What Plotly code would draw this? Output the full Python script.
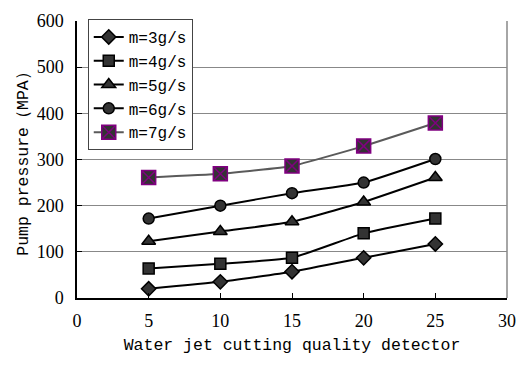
import plotly.graph_objects as go

x_vals = [5, 10, 15, 20, 25]
m3 = [20, 35, 57, 87, 117]
m4 = [64, 74, 87, 140, 172]
m5 = [123, 144, 165, 208, 261]
m6 = [172, 200, 227, 250, 301]
m7 = [261, 269, 286, 329, 379]
names = ["m=3g/s", "m=4g/s", "m=5g/s", "m=6g/s", "m=7g/s"]
x_ticks = [0, 5, 10, 15, 20, 25, 30]
y_ticks = [0, 100, 200, 300, 400, 500, 600]

series = [m3, m4, m5, m6, m7]
symbols = ["diamond", "square", "triangle-up", "circle", "square-x"]
sizes = [11, 11, 12, 11, 14]
line_colors = ["black", "black", "black", "black", "#5a5a5a"]
mline_colors = ["black", "black", "black", "black", "#800080"]

SERIF = "Liberation Serif"

fig = go.Figure()
for i, (ys, nm) in enumerate(zip(series, names)):
    fig.add_trace(go.Scatter(
        x=x_vals, y=ys, name=nm, mode="lines+markers",
        legendgroup=nm,
        line=dict(color=line_colors[i], width=2, shape="spline", smoothing=0.4),
        marker=dict(symbol=symbols[i], size=sizes[i], color="#333333",
                    line=dict(color=mline_colors[i], width=1.5)),
    ))

fig.update_layout(
    width=527, height=367,
    margin=dict(l=77, r=11, t=15, b=69),
    plot_bgcolor="white", paper_bgcolor="white",
    font=dict(family=SERIF, size=18, color="black"),
    showlegend=True,
    legend=dict(
        x=0.025, y=1.007, xanchor="left", yanchor="top",
        bgcolor="white", bordercolor="#444444", borderwidth=1,
        font=dict(family="Liberation Mono", size=16, color="black"),
        tracegroupgap=0,
    ),
    xaxis=dict(
        range=[0, 30], tickvals=x_ticks, ticks="inside", ticklen=5,
        tickcolor="black", showline=True, linecolor="black", linewidth=1.5,
        mirror=False, showgrid=False, zeroline=False, ticklabelstandoff=6,
        tickfont=dict(family=SERIF, size=18),
        title=dict(text="Water jet cutting quality detector",
                   font=dict(family="Liberation Mono", size=16.5), standoff=8),
    ),
    yaxis=dict(
        range=[0, 600], tickvals=y_ticks, ticks="inside", ticklen=5,
        tickcolor="black", showline=True, linecolor="black", linewidth=1.5,
        showgrid=True, gridcolor="#888888", gridwidth=1, zeroline=False,
        ticklabelstandoff=8,
        tickfont=dict(family=SERIF, size=18),
        title=dict(text="Pump pressure（MPA）",
                   font=dict(family="Liberation Mono", size=16.5), standoff=4),
    ),
)
fig.add_shape(type="line", xref="paper", yref="paper", x0=1, x1=1, y0=0, y1=1,
              line=dict(color="#888888", width=1.5))

fig.write_html("out.html")
